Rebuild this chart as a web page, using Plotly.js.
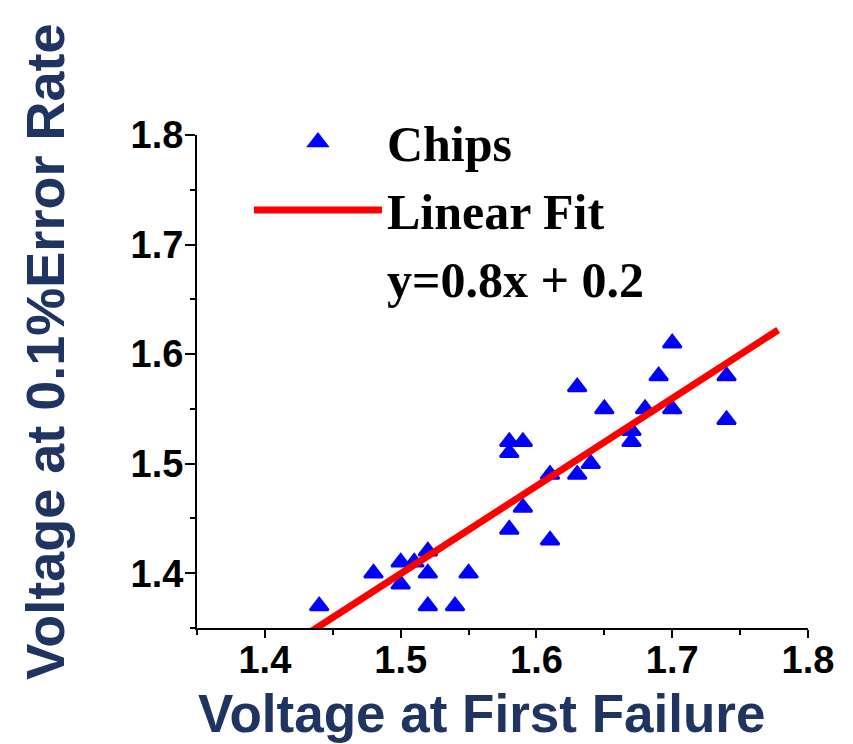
<!DOCTYPE html>
<html>
<head>
<meta charset="utf-8">
<script src="https://cdn.plot.ly/plotly-3.0.1.min.js"></script>
<style>html,body{margin:0;padding:0;background:#fff;}#chart{width:853px;height:744px;}</style>
</head>
<body>
<div id="chart"></div>
<script>
// Chip measurements (Voltage at first failure vs voltage at 0.1% error rate)
const chipX = [1.44, 1.48, 1.50, 1.50, 1.51, 1.52, 1.52, 1.52, 1.54, 1.55,
               1.58, 1.58, 1.58, 1.59, 1.59, 1.61, 1.61, 1.63, 1.63, 1.64,
               1.65, 1.67, 1.67, 1.68, 1.69, 1.70, 1.70, 1.74, 1.74];
const chipY = [1.37, 1.40, 1.41, 1.39, 1.41, 1.42, 1.40, 1.37, 1.37, 1.40,
               1.52, 1.51, 1.44, 1.52, 1.46, 1.49, 1.43, 1.57, 1.49, 1.50,
               1.55, 1.53, 1.52, 1.55, 1.58, 1.61, 1.55, 1.58, 1.54];
// Linear fit end points (y = 0.8x + 0.2)
const fitX = [1.433, 1.778];
const fitY = [1.346, 1.622];

const seriesNames = ['Chips', 'Linear Fit', 'y=0.8x + 0.2'];
const xTitle = 'Voltage at First Failure';
const yTitle = 'Voltage at 0.1%Error Rate';
const tickVals = [1.4, 1.5, 1.6, 1.7, 1.8];
const tickText = ['1.4', '1.5', '1.6', '1.7', '1.8'];

const titleColor = '#1f3460';
const tickFont = {family: 'Liberation Sans, Arial, sans-serif', size: 38, color: '#000', weight: 'bold'};

const traces = [
  {
    x: chipX, y: chipY, type: 'scatter', mode: 'markers', name: seriesNames[0],
    marker: {symbol: 'triangle-up', size: 16, color: '#0000ff', line: {color: '#0000ff', width: 2.5}}
  },
  {
    x: fitX, y: fitY, type: 'scatter', mode: 'lines', name: seriesNames[1],
    line: {color: '#ff0000', width: 7}
  },
  {
    x: [null], y: [null], type: 'scatter', mode: 'none', name: seriesNames[2],
    hoverinfo: 'skip'
  }
];

function axis(extra) {
  return Object.assign({
    showgrid: false, zeroline: false, showline: true, linecolor: '#000', linewidth: 2,
    ticks: 'outside', ticklen: 9, tickwidth: 2, tickcolor: '#000',
    tickfont: tickFont, tickvals: tickVals, ticktext: tickText,
    minor: {dtick: 0.05, tick0: 1.35, ticks: 'outside', ticklen: 5, tickwidth: 2, tickcolor: '#000', showgrid: false},
    range: [1.35, 1.8], fixedrange: true
  }, extra);
}

const layout = {
  width: 853, height: 744,
  margin: {l: 197, r: 45, t: 135, b: 116},
  paper_bgcolor: '#fff', plot_bgcolor: '#fff',
  showlegend: true,
  xaxis: axis({ticklabelstandoff: -11, ticklen: 8}),
  yaxis: axis({ticklabelstandoff: -6, ticklen: 10}),
  legend: {
    x: 0.085, y: 1.065, xanchor: 'left', yanchor: 'top',
    bgcolor: 'rgba(0,0,0,0)', borderwidth: 0,
    itemwidth: 128, tracegroupgap: 0,
    font: {family: 'Liberation Serif, Times New Roman, serif', size: 50, color: '#000', weight: 'bold'}
  },
  annotations: [
    {
      text: xTitle, xref: 'paper', yref: 'paper', x: 0.465, y: -0.174,
      xanchor: 'center', yanchor: 'middle', showarrow: false,
      font: {family: 'Liberation Sans, Arial, sans-serif', size: 53, color: titleColor, weight: 'bold'}
    },
    {
      text: yTitle, xref: 'paper', yref: 'paper', x: -0.249, y: 0.56, textangle: -90,
      xanchor: 'center', yanchor: 'middle', showarrow: false,
      font: {family: 'Liberation Sans, Arial, sans-serif', size: 54, color: titleColor, weight: 'bold'}
    }
  ]
};

Plotly.newPlot('chart', traces, layout, {displayModeBar: false, staticPlot: true});
</script>
</body>
</html>
